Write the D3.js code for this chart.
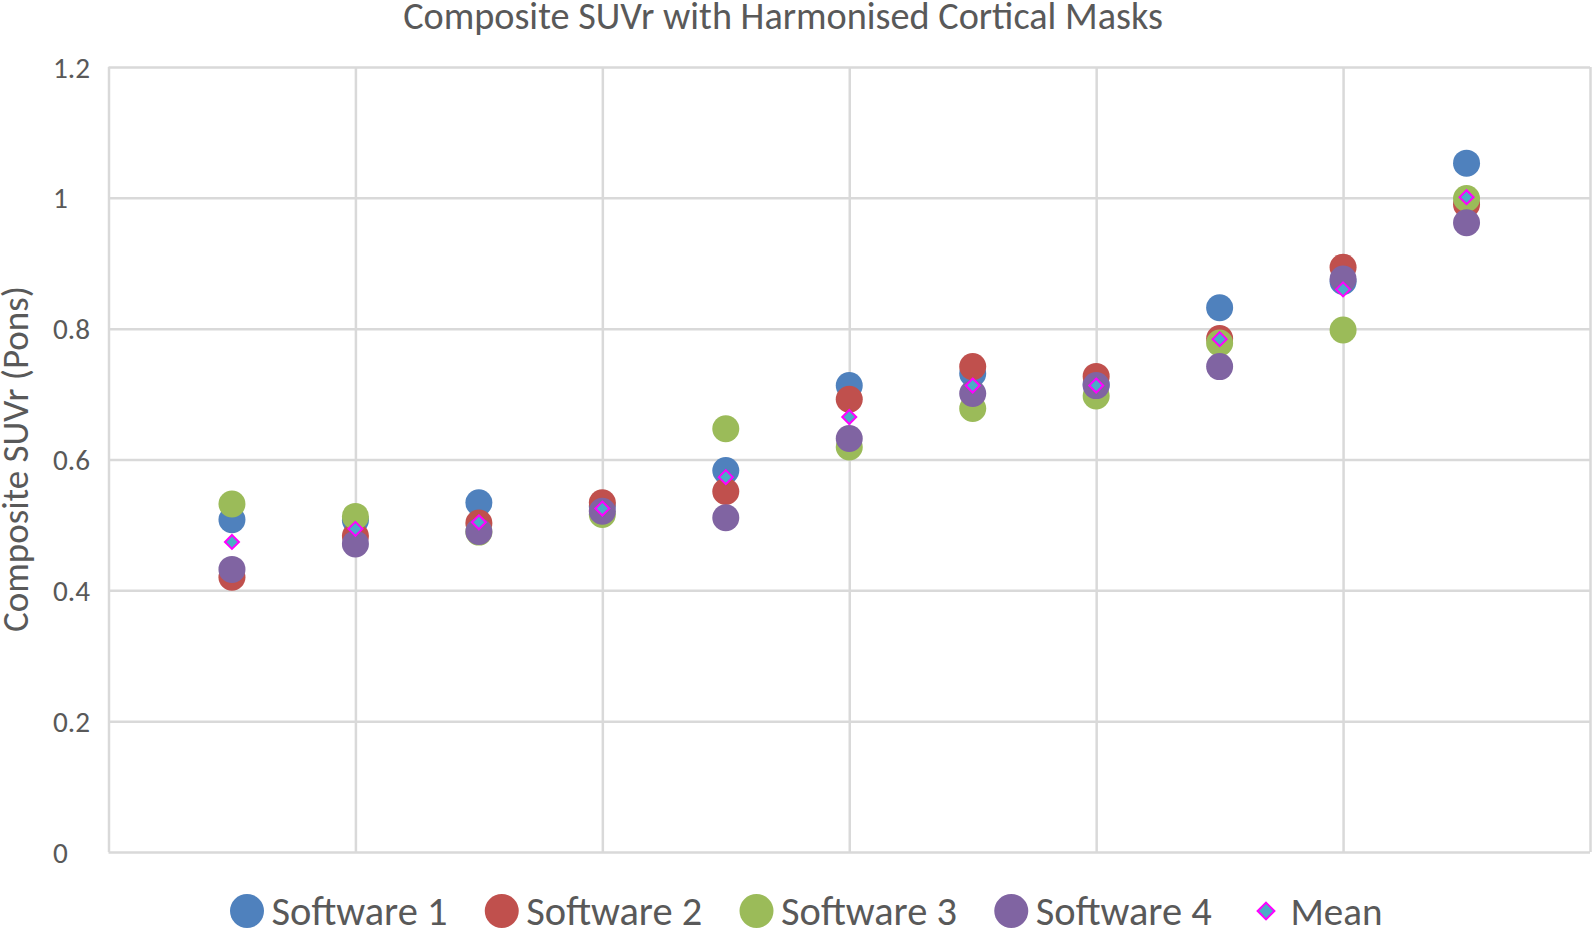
<!DOCTYPE html>
<html>
<head>
<meta charset="utf-8">
<script src="https://cdn.jsdelivr.net/npm/d3@7"></script>
<style>
  html, body { margin: 0; padding: 0; background: #ffffff; }
  svg { display: block; }
  text { font-family: Carlito, Calibri, "Open Sans", sans-serif; fill: #595959; }
</style>
</head>
<body>
<svg id="chart" width="1593" height="932"></svg>
<script>
// ---- data ----
const subjects = [1, 2, 3, 4, 5, 6, 7, 8, 9, 10, 11];
const software1 = [0.508, 0.507, 0.534, 0.529, 0.583, 0.713, 0.731, 0.715, 0.832, 0.872, 1.053];
const software2 = [0.420, 0.483, 0.503, 0.534, 0.551, 0.692, 0.742, 0.727, 0.785, 0.894, 0.990];
const software3 = [0.532, 0.513, 0.489, 0.516, 0.647, 0.619, 0.678, 0.697, 0.778, 0.798, 0.999];
const software4 = [0.432, 0.471, 0.490, 0.521, 0.511, 0.632, 0.701, 0.713, 0.742, 0.876, 0.962];
const meanValues = [0.474, 0.494, 0.504, 0.525, 0.573, 0.665, 0.713, 0.713, 0.784, 0.860, 1.001];
const seriesNames = ["Software 1", "Software 2", "Software 3", "Software 4", "Mean"];
const yTicks = [0, 0.2, 0.4, 0.6, 0.8, 1, 1.2];
const yTickLabels = ["0", "0.2", "0.4", "0.6", "0.8", "1", "1.2"];
const xGridTicks = [0, 2, 4, 6, 8, 10, 12];
const titleText = "Composite SUVr with Harmonised Cortical Masks";
const yAxisTitle = "Composite SUVr (Pons)";

// ---- styling / layout ----
const colors = ["#4f81bd", "#c0504d", "#9bbb59", "#8064a2"];
const meanFill = "#4bacc6", meanStroke = "#ff00ff";
const gridColor = "#d9d9d9";
const plot = { left: 108.5, right: 1590, top: 67, bottom: 852 };

const svg = d3.select("#chart");
const x = d3.scaleLinear().domain([0, 12]).range([plot.left, plot.right]);
const y = d3.scaleLinear().domain([0, 1.2]).range([plot.bottom, plot.top]);

function fitText(sel, targetWidth) {
  const node = sel.node();
  const fs = parseFloat(sel.attr("font-size"));
  const w = node.getComputedTextLength();
  sel.attr("font-size", (fs * targetWidth / w).toFixed(2));
}

// grid lines
const g = svg.append("g");
g.append("g")
  .attr("transform", `translate(${plot.left},0)`)
  .call(d3.axisLeft(y).tickValues(yTicks).tickSize(-(plot.right - plot.left)).tickFormat(""))
  .call(a => a.select(".domain").remove())
  .call(a => a.selectAll("line").attr("stroke", gridColor).attr("stroke-width", 2.5));
g.append("g")
  .attr("transform", `translate(0,${plot.bottom})`)
  .call(d3.axisBottom(x).tickValues(xGridTicks).tickSize(-(plot.bottom - plot.top)).tickFormat(""))
  .call(a => a.select(".domain").remove())
  .call(a => a.selectAll("line").attr("stroke", gridColor).attr("stroke-width", 2.5));

// y tick labels (left aligned as in the reference)
const probe = svg.append("text").attr("font-size", 22).text("0.4");
fitText(probe, 37);
const tickFs = probe.attr("font-size");
probe.remove();
svg.append("g").selectAll("text")
  .data(yTicks)
  .join("text")
  .attr("x", 53)
  .attr("y", d => y(d))
  .attr("dy", "0.36em")
  .attr("font-size", tickFs)
  .text((d, i) => yTickLabels[i]);

// title
const t = svg.append("text")
  .attr("x", 783).attr("y", 29)
  .attr("text-anchor", "middle")
  .attr("font-size", 34)
  .text(titleText);
fitText(t, 760);

// y axis title
const yt = svg.append("text")
  .attr("transform", `translate(28,459) rotate(-90)`)
  .attr("text-anchor", "middle")
  .attr("font-size", 26)
  .text(yAxisTitle);
fitText(yt, 346);

// points
const allSeries = [software1, software2, software3, software4];
allSeries.forEach((vals, si) => {
  svg.append("g").selectAll("circle")
    .data(vals)
    .join("circle")
    .attr("cx", (d, i) => x(subjects[i]))
    .attr("cy", d => y(d))
    .attr("r", 13.5)
    .attr("fill", colors[si]);
});
const diamond = d3.symbol().type(d3.symbolDiamond2).size(125);
svg.append("g").selectAll("path")
  .data(meanValues)
  .join("path")
  .attr("d", diamond)
  .attr("transform", (d, i) => `translate(${x(subjects[i])},${y(d)})`)
  .attr("fill", meanFill)
  .attr("stroke", meanStroke)
  .attr("stroke-width", 2);

// legend
const legend = svg.append("g");
let lx = 230;
const ly = 911;
seriesNames.forEach((name, i) => {
  const item = legend.append("g");
  let markerW = 34;
  if (i < 4) {
    item.append("circle").attr("cx", lx + 17).attr("cy", ly).attr("r", 17).attr("fill", colors[i]);
  } else {
    item.append("path").attr("d", d3.symbol().type(d3.symbolDiamond2).size(180))
      .attr("transform", `translate(${lx + 17},${ly})`)
      .attr("fill", meanFill).attr("stroke", meanStroke).attr("stroke-width", 2);
  }
  const tx = item.append("text")
    .attr("x", lx + markerW + 7.5)
    .attr("y", ly)
    .attr("dy", "0.35em")
    .attr("font-size", 34)
    .text(name);
  fitText(tx, i < 4 ? 176 : 92);
  lx += markerW + 7.5 + tx.node().getComputedTextLength() + 37.3;
});
</script>
</body>
</html>
